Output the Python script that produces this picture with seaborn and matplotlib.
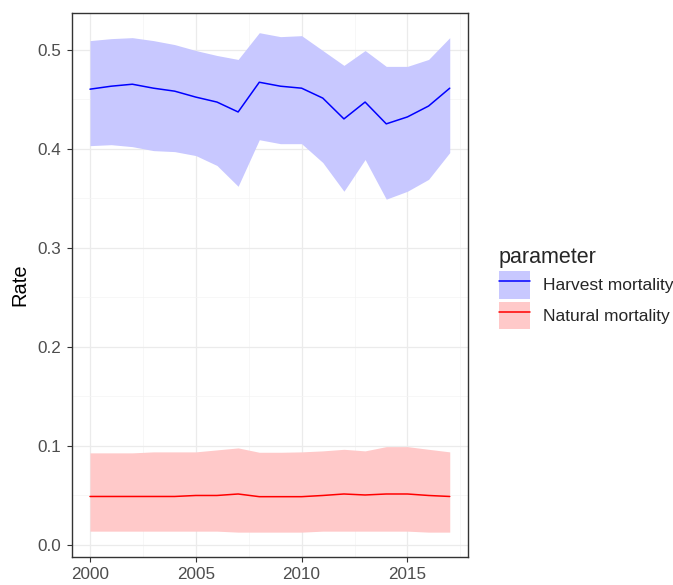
import numpy as np
import pandas as pd
import matplotlib
matplotlib.use("Agg")
import matplotlib.pyplot as plt
import seaborn as sns
from matplotlib.patches import Patch
from matplotlib.lines import Line2D
from matplotlib.ticker import MultipleLocator

years = list(range(2000, 2018))

harvest_mean = [0.460, 0.463, 0.465, 0.461, 0.458, 0.452, 0.447, 0.437, 0.467,
                0.463, 0.461, 0.451, 0.430, 0.447, 0.425, 0.432, 0.443, 0.461]
harvest_upper = [0.509, 0.511, 0.512, 0.509, 0.505, 0.499, 0.494, 0.490, 0.517,
                 0.513, 0.514, 0.499, 0.484, 0.499, 0.483, 0.483, 0.490, 0.512]
harvest_lower = [0.403, 0.404, 0.402, 0.398, 0.397, 0.393, 0.383, 0.362, 0.409,
                 0.405, 0.405, 0.386, 0.357, 0.389, 0.349, 0.357, 0.369, 0.396]

natural_mean = [0.049, 0.049, 0.049, 0.049, 0.049, 0.050, 0.050, 0.0515, 0.0488,
                0.0488, 0.0488, 0.050, 0.0515, 0.0505, 0.0515, 0.0515, 0.050, 0.049]
natural_upper = [0.093, 0.093, 0.093, 0.094, 0.094, 0.094, 0.096, 0.098, 0.0936,
                 0.0936, 0.094, 0.095, 0.0966, 0.095, 0.0993, 0.0993, 0.0966, 0.094]
natural_lower = [0.014, 0.014, 0.014, 0.014, 0.014, 0.014, 0.014, 0.013, 0.013,
                 0.013, 0.013, 0.014, 0.014, 0.014, 0.014, 0.014, 0.013, 0.013]

parameters = ["Harvest mortality", "Natural mortality"]
line_colors = {"Harvest mortality": "#0000FF", "Natural mortality": "#FF0000"}
fill_colors = {"Harvest mortality": "#C8C8FF", "Natural mortality": "#FFC9C9"}

df = pd.DataFrame({
    "year": years * 2,
    "mean": harvest_mean + natural_mean,
    "lower": harvest_lower + natural_lower,
    "upper": harvest_upper + natural_upper,
    "parameter": [parameters[0]] * len(years) + [parameters[1]] * len(years),
})

sns.set_theme(style="white")
plt.rcParams["font.family"] = ["Liberation Sans", "DejaVu Sans"]

fig = plt.figure(figsize=(6.73, 5.85), dpi=100)
ax = fig.add_axes([0.107, 0.048, 0.588, 0.930])

# credible bands behind the yearly means
for p in parameters:
    sub = df[df["parameter"] == p]
    ax.fill_between(sub["year"], sub["lower"], sub["upper"],
                    color=fill_colors[p], linewidth=0, zorder=2)

sns.lineplot(data=df, x="year", y="mean", hue="parameter",
             palette=line_colors, linewidth=1.1, ax=ax, legend=False, zorder=3)

ax.set_xlim(1999.15, 2017.85)
ax.set_ylim(-0.012, 0.537)
ax.xaxis.set_major_locator(MultipleLocator(5))
ax.xaxis.set_minor_locator(MultipleLocator(2.5))
ax.yaxis.set_major_locator(MultipleLocator(0.1))
ax.yaxis.set_minor_locator(MultipleLocator(0.05))
ax.set_yticks([0.0, 0.1, 0.2, 0.3, 0.4, 0.5])
ax.set_yticklabels(["0.0", "0.1", "0.2", "0.3", "0.4", "0.5"])

ax.grid(which="major", color="#EBEBEB", linewidth=0.9, zorder=0)
ax.grid(which="minor", color="#F4F4F4", linewidth=0.5, zorder=0)
ax.set_axisbelow(True)

for s in ax.spines.values():
    s.set_color("#333333")
    s.set_linewidth(1.0)

ax.tick_params(which="major", axis="both", length=3.5, width=0.8,
               color="#333333", labelcolor="#4D4D4D", labelsize=12.3, pad=4,
               bottom=True, left=True)
ax.tick_params(which="minor", length=0)

ax.set_xlabel("")
ax.set_ylabel("Rate", fontsize=14.5, color="black", labelpad=6)

handles = [
    (Patch(facecolor=fill_colors[p], edgecolor="none"),
     Line2D([0], [0], color=line_colors[p], linewidth=1.1))
    for p in parameters
]
leg = fig.legend(handles, parameters, title="parameter",
                 loc="upper left", bbox_to_anchor=(0.718, 0.605),
                 frameon=False, fontsize=12.5, title_fontsize=15.5,
                 handlelength=1.78, handleheight=2.05, handletextpad=0.75,
                 labelspacing=0.2)
leg._legend_box.align = "left"

fig.savefig("out.png", dpi=100)
